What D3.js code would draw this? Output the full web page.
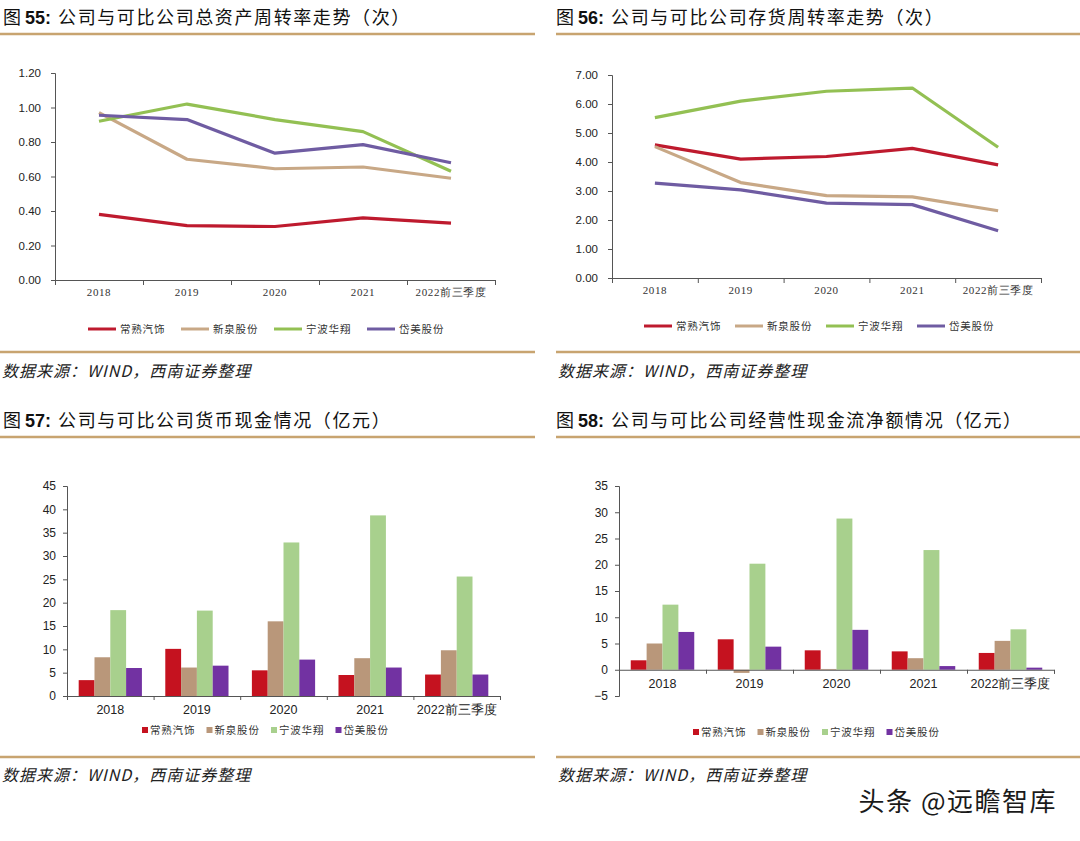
<!DOCTYPE html>
<html><head><meta charset="utf-8">
<script src="https://cdn.jsdelivr.net/npm/d3@7"></script>
<style>
html,body{margin:0;padding:0;background:#fff;}
svg{display:block;}
</style></head>
<body>
<script>
// ---------- DATA ----------
const categories = ["2018","2019","2020","2021","2022前三季度"];
const companies = ["常熟汽饰","新泉股份","宁波华翔","岱美股份"];

// 图55 总资产周转率（次）
const fig55Values = [
  [0.38, 0.315, 0.31, 0.36, 0.33],   // 常熟汽饰
  [0.97, 0.70, 0.645, 0.655, 0.59],  // 新泉股份
  [0.92, 1.02, 0.93, 0.86, 0.63],    // 宁波华翔
  [0.955, 0.93, 0.735, 0.785, 0.68]  // 岱美股份
];
const fig55Ticks = [0, 0.2, 0.4, 0.6, 0.8, 1.0, 1.2];

// 图56 存货周转率（次）
const fig56Values = [
  [4.59, 4.10, 4.19, 4.47, 3.90],
  [4.53, 3.29, 2.84, 2.80, 2.32],
  [5.53, 6.10, 6.44, 6.55, 4.51],
  [3.27, 3.04, 2.58, 2.53, 1.63]
];
const fig56Ticks = [0, 1, 2, 3, 4, 5, 6, 7];

// 图57 货币现金（亿元）
const fig57Values = [
  [3.4, 10.1, 5.5, 4.5, 4.6],
  [8.3, 6.1, 16.0, 8.1, 9.8],
  [18.4, 18.3, 32.9, 38.7, 25.6],
  [6.0, 6.5, 7.8, 6.1, 4.6]
];
const fig57Ticks = [0, 5, 10, 15, 20, 25, 30, 35, 40, 45];

// 图58 经营性现金流净额（亿元）
const fig58Values = [
  [1.8, 5.8, 3.7, 3.5, 3.2],
  [5.0, -0.6, 0.15, 2.2, 5.5],
  [12.4, 20.2, 28.8, 22.8, 7.7],
  [7.2, 4.4, 7.6, 0.7, 0.4]
];
const fig58Ticks = [-5, 0, 5, 10, 15, 20, 25, 30, 35];

const titles = [
  {num:"55", text:"公司与可比公司总资产周转率走势（次）"},
  {num:"56", text:"公司与可比公司存货周转率走势（次）"},
  {num:"57", text:"公司与可比公司货币现金情况（亿元）"},
  {num:"58", text:"公司与可比公司经营性现金流净额情况（亿元）"}
];
const sourceText = "数据来源：WIND，西南证券整理";
const watermark = "头条 @远瞻智库";

const lineColors = ["#BE1A2E", "#C8A886", "#93C053", "#6F5CA2"];
const barColors  = ["#C5121F", "#B9977A", "#A8D08D", "#7232A2"];
const ruleColor = "#C8A470";
const CJK = "'Noto Sans CJK SC', sans-serif";
const SANS = "'Liberation Sans', Arial, sans-serif";
const SERIF = "'Liberation Serif', 'Times New Roman', serif";

// ---------- SVG ----------
const svg = d3.select("body").append("svg").attr("width",1080).attr("height",841);
svg.append("rect").attr("width",1080).attr("height",841).attr("fill","#fff");

function drawTitle(x, y, t){
  const tx = svg.append("text").attr("x",x).attr("y",y)
    .attr("font-size",18).attr("fill","#111").attr("font-family",CJK);
  tx.append("tspan").text("图 ");
  tx.append("tspan").attr("font-family",SANS).attr("font-weight","bold").text(t.num + ":");
  tx.append("tspan").attr("dx",7).attr("letter-spacing",1.6).text(t.text);
}
function rule(x1,x2,y){
  svg.append("line").attr("x1",x1).attr("x2",x2).attr("y1",y).attr("y2",y)
    .attr("stroke",ruleColor).attr("stroke-width",2.5);
}
function source(x,y){
  svg.append("text").attr("x",x).attr("y",y).attr("font-size",16)
    .attr("font-style","italic").attr("letter-spacing",1).attr("fill","#222").attr("font-family",CJK)
    .text(sourceText);
}

drawTitle(3, 24, titles[0]);
drawTitle(556, 24, titles[1]);
drawTitle(3, 427, titles[2]);
drawTitle(556, 427, titles[3]);
rule(0,535,34); rule(556,1080,34);
rule(0,535,352); rule(556,1080,352);
rule(0,535,437); rule(556,1080,437);
rule(0,535,757); rule(556,1080,757);
source(2,377); source(558,377);
source(2,781); source(558,781);

svg.append("text").attr("x",1057).attr("y",811).attr("text-anchor","end")
  .attr("font-size",26).attr("letter-spacing",1.5).attr("fill","#1a1a1a").attr("font-family",CJK).text(watermark);

function styleAxis(g){
  g.selectAll("path,line").attr("stroke","#555").attr("stroke-width",1);
}

// ---------- LINE CHART ----------
function lineChart(opt){
  const x = d3.scaleBand().domain(categories).range([opt.x0,opt.x1]);
  const xi = d3.scaleLinear().domain([0,categories.length]).range([opt.x0,opt.x1]);
  const y = d3.scaleLinear().domain([0,opt.max]).range([opt.yb,opt.yt]);
  const g = svg.append("g");
  const ya = g.append("g").attr("transform",`translate(${opt.x0},0)`)
    .call(d3.axisLeft(y).tickValues(opt.ticks).tickFormat(d3.format(".2f")).tickSize(4).tickPadding(10));
  ya.selectAll("text").attr("font-family",SANS).attr("font-size",11.5).attr("fill","#222");
  styleAxis(ya);
  const xa = g.append("g").attr("transform",`translate(0,${opt.yb})`)
    .call(d3.axisBottom(xi).tickValues(d3.range(categories.length+1)).tickFormat("").tickSize(5));
  styleAxis(xa);
  g.selectAll(".cat").data(categories).enter().append("text")
    .attr("x",d=>x(d)+x.bandwidth()/2).attr("y",opt.yb+16)
    .attr("text-anchor","middle").attr("font-size",11).attr("letter-spacing",0.6)
    .attr("font-family",SERIF).attr("fill","#333").text(d=>d);
  const line = d3.line().x((d,i)=>x(categories[i])+x.bandwidth()/2).y(d=>y(d));
  opt.values.forEach((vals,k)=>{
    g.append("path").datum(vals).attr("d",line).attr("fill","none")
      .attr("stroke",lineColors[k]).attr("stroke-width",3.2).attr("stroke-linejoin","round");
  });
  companies.forEach((c,k)=>{
    const lx = opt.legX + k*opt.legStep;
    g.append("line").attr("x1",lx).attr("x2",lx+28).attr("y1",opt.legY).attr("y2",opt.legY)
      .attr("stroke",lineColors[k]).attr("stroke-width",3);
    g.append("text").attr("x",lx+32).attr("y",opt.legY+4).attr("font-size",10.5)
      .attr("letter-spacing",0.8).attr("font-family",CJK).attr("fill","#333").text(c);
  });
}

// ---------- BAR CHART ----------
function barChart(opt){
  const x0 = d3.scaleBand().domain(categories).range([opt.x0,opt.x1]).paddingInner(0.27).paddingOuter(0.135);
  const x1 = d3.scaleBand().domain(d3.range(companies.length)).range([0,x0.bandwidth()]);
  const xi = d3.scaleLinear().domain([0,categories.length]).range([opt.x0,opt.x1]);
  const y = d3.scaleLinear().domain([opt.min,opt.max]).range([opt.yb,opt.yt]);
  const g = svg.append("g");
  const ya = g.append("g").attr("transform",`translate(${opt.x0},0)`)
    .call(d3.axisLeft(y).tickValues(opt.ticks).tickFormat(d3.format("d")).tickSize(4).tickPadding(7));
  ya.selectAll("text").attr("font-family",SANS).attr("font-size",12).attr("fill","#222");
  styleAxis(ya);
  categories.forEach((c,i)=>{
    companies.forEach((co,k)=>{
      const v = opt.values[k][i];
      g.append("rect").attr("x",x0(c)+x1(k)).attr("width",x1.bandwidth())
        .attr("y",y(Math.max(0,v))).attr("height",Math.abs(y(v)-y(0)))
        .attr("fill",barColors[k]);
    });
  });
  const xa = g.append("g").attr("transform",`translate(0,${y(0)})`)
    .call(d3.axisBottom(xi).tickValues(d3.range(categories.length+1)).tickFormat("").tickSize(4));
  styleAxis(xa);
  g.selectAll(".cat").data(categories).enter().append("text")
    .attr("x",d=>x0(d)+x0.bandwidth()/2).attr("y",opt.labY)
    .attr("text-anchor","middle").attr("font-size",12.5)
    .attr("font-family",SANS).attr("fill","#222").text(d=>d);
  companies.forEach((c,k)=>{
    const lx = opt.legX + k*opt.legStep;
    g.append("rect").attr("x",lx).attr("y",opt.legY-3).attr("width",6).attr("height",6)
      .attr("fill",barColors[k]);
    g.append("text").attr("x",lx+8).attr("y",opt.legY+4).attr("font-size",10.5)
      .attr("letter-spacing",0.8).attr("font-family",CJK).attr("fill","#333").text(c);
  });
}

lineChart({x0:55,x1:495,yt:73,yb:280,max:1.2,ticks:fig55Ticks,values:fig55Values,
  legX:88,legStep:93,legY:329});
lineChart({x0:612,x1:1041,yt:75,yb:278,max:7,ticks:fig56Ticks,values:fig56Values,
  legX:644,legStep:91,legY:326});
barChart({x0:67,x1:500,yt:486,yb:696,min:0,max:45,ticks:fig57Ticks,values:fig57Values,
  labY:714,legX:142,legStep:64.5,legY:730});
barChart({x0:619,x1:1054,yt:486,yb:696,min:-5,max:35,ticks:fig58Ticks,values:fig58Values,
  labY:688,legX:693,legStep:64.5,legY:732});
</script>
</body></html>
